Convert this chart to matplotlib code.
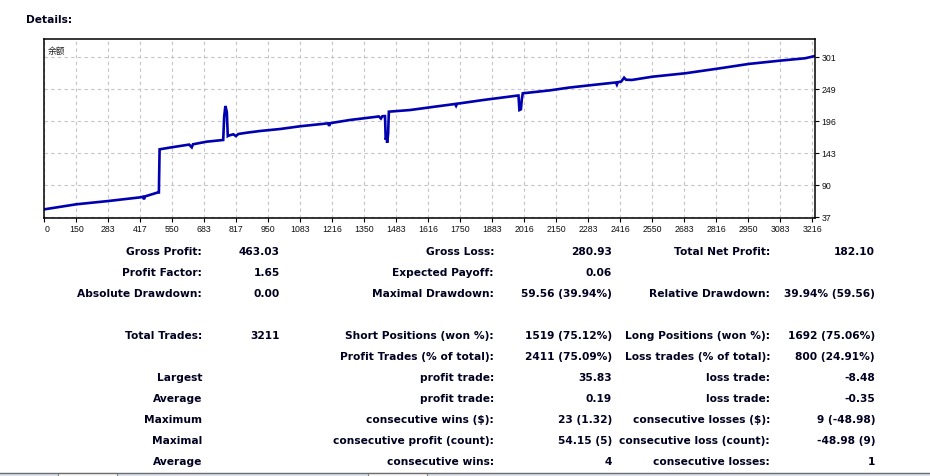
import numpy as np
import matplotlib
matplotlib.use("Agg")
import matplotlib.pyplot as plt
from matplotlib.patches import Rectangle

# balance curve (trade number -> balance)
trades = [17, 150, 283, 417, 428, 432, 436, 478, 490, 494, 497, 547, 620, 631, 636,
          693, 762, 766, 771, 777, 781, 783, 804, 815, 825, 860, 915, 999, 1082,
          1200, 1203, 1207, 1290, 1402, 1410, 1419, 1425, 1436, 1439, 1442, 1445,
          1449, 1452, 1540, 1624, 1728, 1732, 1736, 1749, 1846, 1985, 1992, 1996,
          2002, 2006, 2010, 2124, 2200, 2300, 2398, 2402, 2406, 2420, 2432, 2440,
          2464, 2550, 2686, 2832, 2950, 3082, 3186, 3228]
balance = [50.2, 58.5, 63.9, 70.0, 71.0, 66.7, 71.5, 76.6, 78.0, 78.0, 149.2, 152.5, 157.0, 152.5, 157.5,
           161.8, 164.6, 203.0, 220.7, 211.0, 171.1, 171.6, 174.0, 171.0, 174.5, 176.6, 179.4, 182.7, 187.2,
           192.1, 187.7, 192.3, 197.6, 203.0, 203.5, 200.0, 203.8, 204.0, 165.0, 170.0, 160.0,
           175.0, 211.3, 214.0, 218.5, 224.0, 221.0, 224.5, 225.1, 230.6, 237.7, 238.0, 214.0,
           215.2, 232.0, 241.6, 246.5, 250.9, 255.3, 259.5, 256.0, 260.0, 261.0, 267.4, 264.0,
           263.6, 269.0, 274.6, 282.9, 290.0, 295.5, 299.4, 303.2]

xtick_labels = ['0', '150', '283', '417', '550', '683', '817', '950', '1083', '1216', '1350',
                '1483', '1616', '1750', '1883', '2016', '2150', '2283', '2416', '2550',
                '2683', '2816', '2950', '3083', '3216']
ytick_labels = ['37', '90', '143', '196', '249', '301']

col1_labels = ['Gross Profit:', 'Profit Factor:', 'Absolute Drawdown:', '', 'Total Trades:', '',
               'Largest', 'Average', 'Maximum', 'Maximal', 'Average']
col1_values = ['463.03', '1.65', '0.00', '', '3211', '', '', '', '', '', '']
col2_labels = ['Gross Loss:', 'Expected Payoff:', 'Maximal Drawdown:', '', 'Short Positions (won %):',
               'Profit Trades (% of total):', 'profit trade:', 'profit trade:', 'consecutive wins ($):',
               'consecutive profit (count):', 'consecutive wins:']
col2_values = ['280.93', '0.06', '59.56 (39.94%)', '', '1519 (75.12%)', '2411 (75.09%)', '35.83',
               '0.19', '23 (1.32)', '54.15 (5)', '4']
col3_labels = ['Total Net Profit:', '', 'Relative Drawdown:', '', 'Long Positions (won %):',
               'Loss trades (% of total):', 'loss trade:', 'loss trade:', 'consecutive losses ($):',
               'consecutive loss (count):', 'consecutive losses:']
col3_values = ['182.10', '', '39.94% (59.56)', '', '1692 (75.06%)', '800 (24.91%)', '-8.48', '-0.35',
               '9 (-48.98)', '-48.98 (9)', '1']

W, H = 930, 476
fig = plt.figure(figsize=(W / 100, H / 100), dpi=100)
fig.patch.set_facecolor('white')


def px(x, y):
    return x / W, 1 - y / H


# chart box in pixels
left, top, right, bottom = 44.3, 39.3, 815.3, 218.3
ax = fig.add_axes([left / W, 1 - bottom / H, (right - left) / W, (bottom - top) / H])
ax.plot(trades, balance, color='#0000b0', lw=1.9, solid_joinstyle='miter')
ax.set_xlim(16.7, 3228.5)
ax.set_ylim(35.4, 330.7)

xpos = [16.7] + [float(t) for t in xtick_labels[1:]]
ax.set_xticks(xpos)
ax.set_xticklabels(xtick_labels)
ypos = np.linspace(37, 301, len(ytick_labels))
ax.set_yticks(ypos)
ax.set_yticklabels(ytick_labels)
ax.yaxis.tick_right()
ax.tick_params(axis='both', direction='out', length=3, width=0.8, color='black',
               labelsize=6.3, pad=1.5, labelcolor='#101010')
for lab in ax.get_xticklabels() + ax.get_yticklabels():
    lab.set_fontfamily('Liberation Sans')
ax.get_xticklabels()[0].set_horizontalalignment('left')
ax.grid(True, color='#c4c4c4', lw=0.8, linestyle=(0, (3, 3)))
for s in ax.spines.values():
    s.set_linewidth(1.1)
    s.set_color('black')
ax.text(0.004, 0.955, '余额', transform=ax.transAxes, fontsize=6.3, va='top', ha='left',
        family=['Noto Sans CJK SC', 'DejaVu Sans'], color='#202020')

fig.text(*px(26, 20), 'Details:', fontsize=7.7, fontweight='bold', va='center', ha='left',
         color='#000020')

# statistics table
row_y0, row_step = 251.7, 21.0
columns = [(col1_labels, 202), (col1_values, 280), (col2_labels, 494), (col2_values, 612),
           (col3_labels, 770), (col3_values, 875)]
for texts, xr in columns:
    for i, t in enumerate(texts):
        if t:
            fig.text(*px(xr, row_y0 + i * row_step), t, fontsize=7.7, fontweight='bold',
                     ha='right', va='center', color='#000020')

# tab strip at the bottom of the window
fig.patches.append(Rectangle(px(0, 476), 1, 3.5 / H, transform=fig.transFigure,
                             facecolor='#dbe4ef', edgecolor='none'))
fig.lines.append(plt.Line2D([0, 1], [1 - 472.5 / H] * 2, transform=fig.transFigure,
                            color='#6d6d6d', lw=1.0))
for x0, x1 in [(58, 117), (368, 427)]:
    fig.patches.append(Rectangle(px(x0, 476), (x1 - x0) / W, 3.5 / H, transform=fig.transFigure,
                                 facecolor='white', edgecolor='#8a8a8a', lw=0.8))

fig.savefig('out.png', dpi=100)
